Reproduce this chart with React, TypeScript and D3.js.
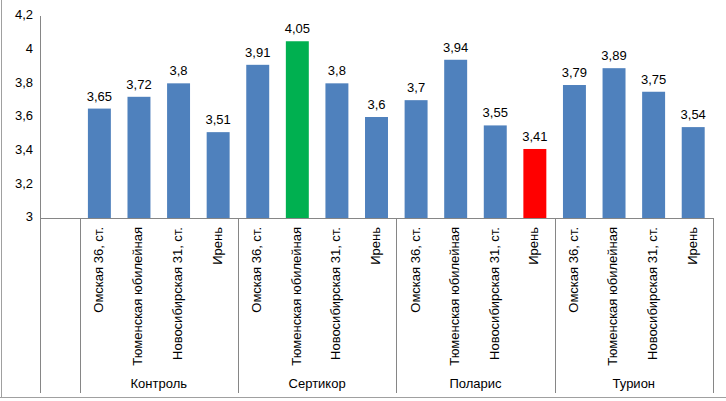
import React from 'react';
import * as d3 from 'd3';

const groups = ['Контроль', 'Сертикор', 'Поларис', 'Турион'];
const sites = ['Омская 36, ст.', 'Тюменская юбилейная', 'Новосибирская 31, ст.', 'Ирень'];
const control = [3.65, 3.72, 3.8, 3.51];
const sertikor = [3.91, 4.05, 3.8, 3.6];
const polaris = [3.7, 3.94, 3.55, 3.41];
const turion = [3.79, 3.89, 3.75, 3.54];
const seriesByGroup = [control, sertikor, polaris, turion];
const yTicks = [3, 3.2, 3.4, 3.6, 3.8, 4, 4.2];
// best / worst highlighted bars: [groupIndex, siteIndex]
const bestCell = [1, 1];
const worstCell = [2, 3];

const W = 726;
const H = 401;
const margin = { left: 40, right: 13, top: 16, axisY: 218, bottom: 393 };
const font = '"Liberation Sans", Arial, sans-serif';

const fmt = (v: number) => String(v).replace('.', ',');

export default function App() {
  const keys = [''];
  groups.forEach((g, gi) => sites.forEach((s, si) => keys.push(`${gi}|${si}`)));

  const x = d3
    .scaleBand<string>()
    .domain(keys)
    .range([margin.left, W - margin.right])
    .paddingInner(0.42)
    .paddingOuter(0.21);
  const step = x.step();

  const y = d3.scaleLinear().domain([3, 4.2]).range([margin.axisY, margin.top]);

  const bars = groups.flatMap((g, gi) =>
    sites.map((s, si) => {
      const v = seriesByGroup[gi][si];
      let fill = '#4F81BD';
      if (gi === bestCell[0] && si === bestCell[1]) fill = '#00B050';
      if (gi === worstCell[0] && si === worstCell[1]) fill = '#FF0000';
      return { key: `${gi}|${si}`, site: s, v, fill };
    })
  );

  const separators = [margin.left, ...groups.map((g, gi) => (x(`${gi}|0`) ?? 0) - (step - x.bandwidth()) / 2)];
  separators.push((x(`${groups.length - 1}|3`) ?? 0) + x.bandwidth() + (step - x.bandwidth()) / 2);

  return (
    <svg
      width={W}
      height={H}
      style={{ position: 'absolute', left: 0, top: 0, background: '#fff' }}
      fontFamily={font}
    >
      <rect x={0} y={0} width={W} height={H} fill="#fff" />
      <line x1={1.5} y1={0} x2={1.5} y2={397} stroke="#a0a0a0" />
      <line x1={0} y1={397.5} x2={W} y2={397.5} stroke="#a0a0a0" />

      {/* y axis */}
      <line x1={margin.left + 0.5} y1={margin.top} x2={margin.left + 0.5} y2={margin.bottom} stroke="#868686" />
      {yTicks.map((t) => (
        <text key={t} x={33} y={y(t)} textAnchor="end" dominantBaseline="middle" fontSize={13} fill="#000">
          {fmt(t)}
        </text>
      ))}

      {/* x axis */}
      <line x1={margin.left} y1={margin.axisY + 0.5} x2={separators[separators.length - 1]} y2={margin.axisY + 0.5} stroke="#868686" />
      {separators.map((sx, i) => (
        <line key={i} x1={Math.round(sx) + 0.5} y1={margin.axisY} x2={Math.round(sx) + 0.5} y2={margin.bottom} stroke="#868686" />
      ))}

      {bars.map((b) => {
        const bx = x(b.key) ?? 0;
        const cx = bx + x.bandwidth() / 2;
        return (
          <g key={b.key}>
            <rect x={bx} y={y(b.v)} width={x.bandwidth()} height={margin.axisY - y(b.v)} fill={b.fill} />
            <text x={cx} y={y(b.v) - 8} textAnchor="middle" fontSize={13} fill="#000">
              {fmt(b.v)}
            </text>
            <text
              transform={`translate(${cx},${margin.axisY + 9}) rotate(-90)`}
              textAnchor="end"
              dominantBaseline="middle"
              fontSize={13}
              fill="#000"
            >
              {b.site}
            </text>
          </g>
        );
      })}

      {groups.map((g, gi) => {
        const gx = (separators[gi + 1] + separators[gi + 2]) / 2;
        return (
          <text key={g} x={gx} y={388} textAnchor="middle" fontSize={13} fill="#000">
            {g}
          </text>
        );
      })}
    </svg>
  );
}
